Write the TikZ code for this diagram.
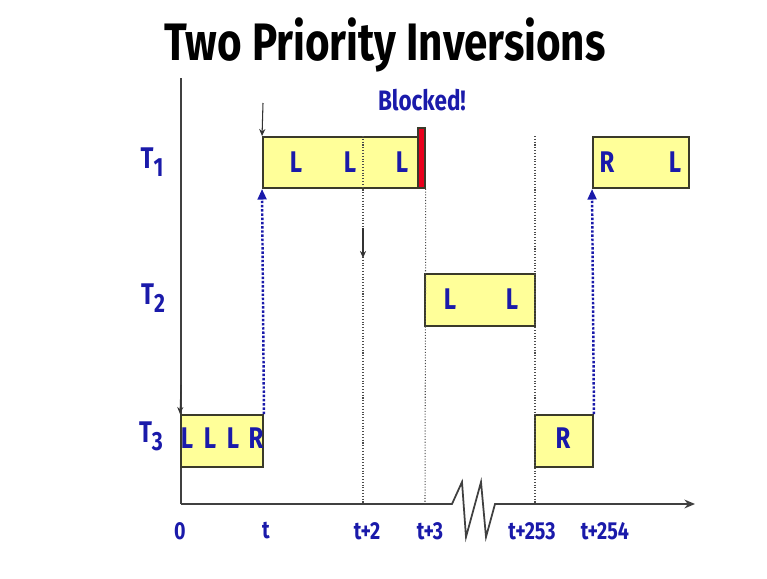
\documentclass[tikz,border=0pt]{standalone}
\usepackage{fontspec}
\setmainfont{Fira Sans}[FakeStretch=0.8]
\usetikzlibrary{arrows.meta,positioning,fit}
\definecolor{taskyellow}{HTML}{FFFF99}
\definecolor{edgegray}{HTML}{3A3A2A}
\definecolor{labelblue}{HTML}{1A1AAA}
\definecolor{blockred}{HTML}{E8001C}

\newcommand{\taskname}[1]{T\raisebox{-0.5ex}{\fontsize{15}{15}\selectfont #1}}

\begin{document}
\begin{tikzpicture}[x=0.02cm, y=-0.02cm,
  taskbox/.style={draw=edgegray, fill=taskyellow, line width=1.1pt, inner sep=0pt},
  blockbar/.style={draw=edgegray, fill=blockred, line width=0.8pt, inner sep=0pt},
  lbl/.style={text=labelblue, font=\bfseries\fontsize{17}{17}\selectfont},
  timelbl/.style={text=labelblue, font=\bfseries\fontsize{14}{14}\selectfont},
  ticked/.style={densely dotted, line width=0.6pt, draw=black!70},
  axisline/.style={line width=1pt, draw=black!75},
  release/.style={-{Stealth[length=4pt,width=3.5pt]}, line width=0.6pt, draw=black!80},
  wake/.style={densely dotted, line width=1.4pt, draw=labelblue, -{Triangle[length=6pt,width=5pt]}}]
  \useasboundingbox (0,0) rectangle (767,578);

  % title
  \node[font=\bfseries\fontsize{30}{30}\selectfont] (title) at (385,45) {Two Priority Inversions};

  % time axis with break
  \coordinate (origin) at (181,504);
  \coordinate (ytop) at (181,78);
  \coordinate (xend) at (695,504);
  \coordinate (k0) at (181,504);
  \coordinate (kt) at (263,504);
  \coordinate (k2) at (363,504);
  \coordinate (k3) at (425,504);
  \coordinate (k253) at (535,504);
  \coordinate (k254) at (593,504);
  \draw[axisline] (ytop) -- (origin);
  \draw[axisline, -{Stealth[length=6pt,width=5pt]}] (origin) -- (452,504) -- (462,482) -- (466,537)
    -- (481,482) -- (486,537) -- (495,504) -- (xend);

  % time labels
  \node[timelbl] (lab0) at (180,531) {0};
  \node[timelbl] (labt) at (266,531) {t};
  \node[timelbl] (lab2) at (367,531) {t+2};
  \node[timelbl] (lab3) at (430,531) {t+3};
  \node[timelbl] (lab253) at (532,531) {t+253};
  \node[timelbl] (lab254) at (605,531) {t+254};

  % task names
  \node[lbl] (n1) at (152,162) {\taskname{1}};
  \node[lbl] (n2) at (153,298) {\taskname{2}};
  \node[lbl] (n3) at (151,436) {\taskname{3}};

  % execution boxes
  \node[taskbox, fit={(181,415) (263,467)}] (t3a) {};
  \node[taskbox, fit={(263,137) (418,188)}] (t1a) {};
  \node[blockbar, fit={(418,128) (425,188)}] (blk) {};
  \node[taskbox, fit={(425,274) (535,326)}] (t2a) {};
  \node[taskbox, fit={(535,415) (593,467)}] (t3b) {};
  \node[taskbox, fit={(593,137) (689,188)}] (t1b) {};

  % instants
  \draw[ticked] (t1a.north -| k2) -- (k2);
  \draw[ticked] (blk.south east) -- (k3);
  \draw[ticked] (t1b.north -| k253) -- (k253);

  % releases
  \coordinate (rel0) at (181,385);
  \coordinate (relt) at (263,103);
  \coordinate (rel2) at (363,228);
  \draw[release] (rel0) -- (t3a.north west);
  \draw[release] (relt) -- (t1a.north west);
  \draw[release] (rel2) -- (363,258);

  % wake-ups
  \draw[wake] (t3a.north east) -- (t1a.south west);
  \draw[wake] (t3b.north east) -- (t1b.south west);

  % box contents
  \foreach \x/\c in {187/L,210/L,233/L,256/R}
    \node[lbl] (s3-\x) at (\x,438) {\c};
  \foreach \x in {296,350,402}
    \node[lbl] (s1-\x) at (\x,162) {L};
  \foreach \x in {450,512}
    \node[lbl] (s2-\x) at (\x,299) {L};
  \node[lbl] (s3b) at (563,438) {R};
  \node[lbl] (s1r) at (607,162) {R};
  \node[lbl] (s1l) at (675,162) {L};

  \node[lbl, font=\bfseries\fontsize{16}{16}\selectfont] (blocked) at (422,100) {Blocked!};
\end{tikzpicture}
\end{document}
